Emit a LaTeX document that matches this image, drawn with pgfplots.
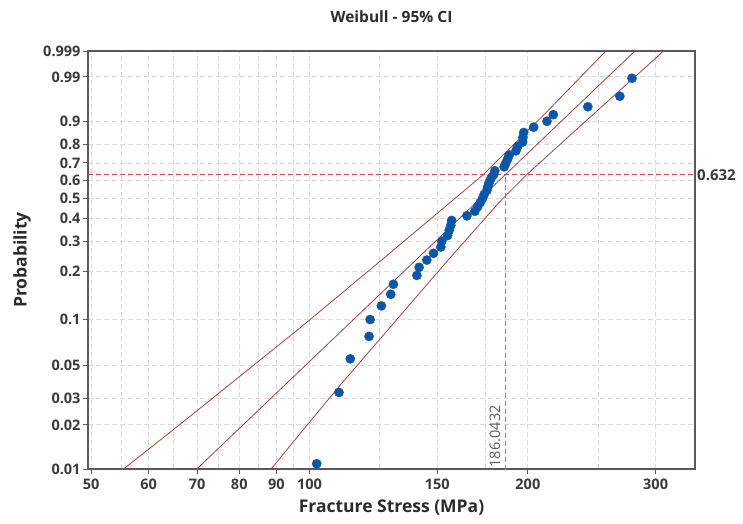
\documentclass[border=0pt]{standalone}
\usepackage{fontspec}
\setmainfont{Open Sans}
\usepackage{pgfplots}
\usepackage{pgfplotstable}
\pgfplotsset{compat=1.18}
\definecolor{ink}{HTML}{2B2B2B}
\definecolor{ticktext}{HTML}{3A3A3A}
\definecolor{frame}{HTML}{5A5A5A}
\definecolor{gridgray}{HTML}{DADADA}
\definecolor{dotblue}{HTML}{0B56A6}
\definecolor{cired}{HTML}{A8403F}
\definecolor{refred}{HTML}{D64545}
\definecolor{refgray}{HTML}{8A8A8A}
\definecolor{reftext}{HTML}{5A5A5A}

% fracture stress (MPa) and plotting position (i-0.5)/45
\pgfplotstableread{
x p
102.3 0.0111
109.8 0.0333
113.8 0.0556
120.8 0.0778
121.2 0.1000
125.6 0.1222
129.4 0.1444
130.5 0.1667
140.6 0.1889
141.6 0.2111
145.1 0.2333
148.2 0.2556
151.7 0.2778
152.2 0.3000
155.0 0.3222
155.8 0.3444
156.6 0.3667
157.0 0.3889
164.8 0.4111
169.0 0.4333
170.5 0.4556
171.9 0.4778
173.2 0.5000
174.1 0.5222
175.6 0.5444
176.2 0.5667
176.9 0.5889
177.9 0.6111
179.4 0.6333
180.1 0.6556
185.5 0.6778
186.5 0.7000
187.6 0.7222
188.5 0.7444
192.6 0.7667
193.6 0.7889
196.7 0.8111
196.9 0.8333
197.4 0.8556
203.7 0.8778
212.5 0.9000
216.8 0.9222
241.9 0.9444
267.8 0.9667
278.3 0.9889
}\stress

\begin{document}
\begin{tikzpicture}
\useasboundingbox (-88pt,-54pt) rectangle (655pt,469pt);
\begin{axis}[
  at={(0pt,0pt)}, anchor=south west,
  scale only axis, width=607pt, height=418pt,
  xmode=log, xmin=49.5, xmax=340,
  ymin=0.01, ymax=0.999,
  y coord trafo/.code={\pgfmathparse{ln(-ln(1-#1))}},
  xtick={50,60,70,80,90,100,150,200,300},
  xticklabels={50,60,70,80,90,100,150,200,300},
  minor xtick={55,65,75,85,95,125,175,250},
  ytick={0.01,0.02,0.03,0.05,0.1,0.2,0.3,0.4,0.5,0.6,0.7,0.8,0.9,0.99,0.999},
  yticklabels={0.01,0.02,0.03,0.05,0.1,0.2,0.3,0.4,0.5,0.6,0.7,0.8,0.9,0.99,0.999},
  grid=both,
  major grid style={draw=gridgray, line width=0.8pt, dash pattern=on 5pt off 3pt},
  minor grid style={draw=gridgray, line width=0.8pt, dash pattern=on 5pt off 3pt},
  axis line style={draw=frame, line width=1.2pt},
  tick align=outside, xtick pos=bottom, ytick pos=left,
  major tick length=5pt, minor tick length=0pt,
  tick style={draw=frame, line width=1pt},
  tick label style={text=ticktext, font=\fontsize{14.5}{16}\selectfont\bfseries},
  yticklabel style={xshift=1pt},
  xticklabel style={yshift=-1pt},
  clip mode=individual,
]
\addplot[refred, line width=1pt, dash pattern=on 5pt off 3pt] coordinates {(49.5,0.632) (340,0.632)};
\addplot[refgray, line width=1pt, dash pattern=on 5pt off 3pt] coordinates {(186.0432,0.01) (186.0432,0.632)};
% confidence band, upper
\addplot[cired, line width=0.8pt] coordinates {
  (55.1,0.01) (65.8,0.0198) (82.9,0.0485) (97.2,0.0889) (125.4,0.2315)
  (173.4,0.632) (210.9,0.924) (256.4,0.999)};
% fitted line
\addplot[cired, line width=0.8pt] coordinates {(69.6,0.01) (281.2,0.999)};
% confidence band, lower
\addplot[cired, line width=0.8pt] coordinates {
  (88.2,0.01) (97.2,0.01785) (110.4,0.0376) (155.0,0.2315) (183.6,0.4894)
  (199.1,0.632) (231.4,0.8584) (308.0,0.999)};
\addplot[only marks, mark=*, mark size=4.6pt, mark options={fill=dotblue, draw=dotblue}] table[x=x, y=p] {\stress};

\node[anchor=west, text=ticktext, font=\fontsize{15}{16}\selectfont\bfseries, inner sep=2pt] at (axis cs:340,0.632) {0.632};
\node[rotate=90, anchor=south west, text=reftext, font=\fontsize{14.5}{16}\selectfont, inner sep=1.5pt] at (axis cs:186.0432,0.01) [yshift=3pt] {186.0432};
\node[font=\fontsize{15.5}{17}\selectfont\bfseries, text=ink] at (rel axis cs:0.5,1) [yshift=34pt] {Weibull - 95\% CI};
\node[font=\fontsize{17.5}{19}\selectfont\bfseries, text=ink] at (rel axis cs:0.5,0) [yshift=-39pt] {Fracture Stress (MPa)};
\node[font=\fontsize{17.5}{19}\selectfont\bfseries, text=ink, xshift=-66pt, rotate=90] at (rel axis cs:0,0.5) {Probability};
\end{axis}
\end{tikzpicture}
\end{document}
